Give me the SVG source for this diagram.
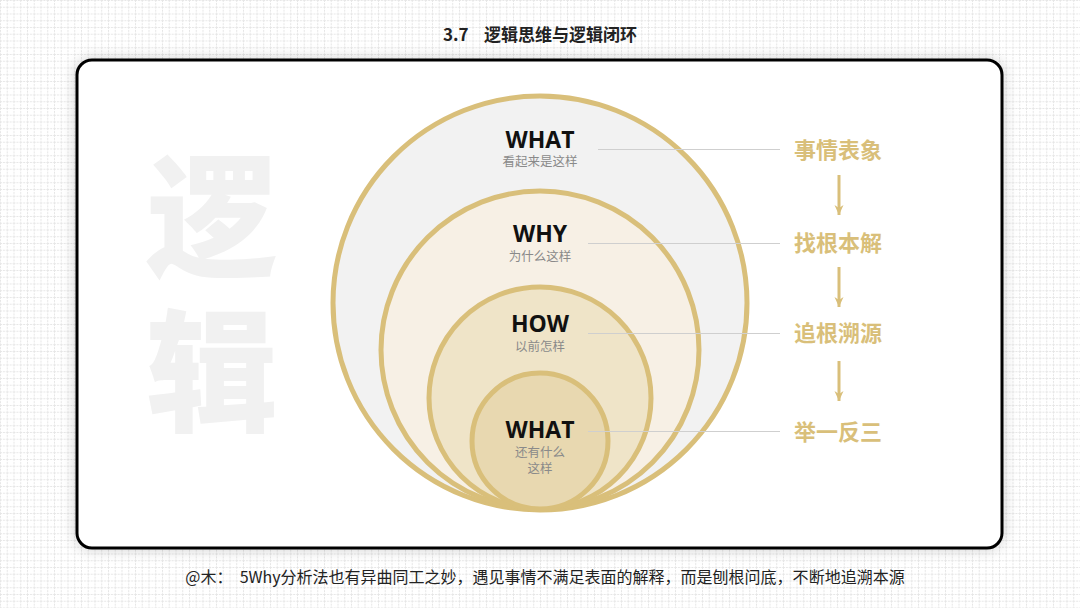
<svg xmlns="http://www.w3.org/2000/svg" width="1080" height="608" viewBox="0 0 1080 608">
  <defs>
    <pattern id="grid" width="6.75" height="6.75" patternUnits="userSpaceOnUse">
      <path d="M0 0.5H6.75M0.5 0V6.75" stroke="#e6e6e6" stroke-width="1" stroke-dasharray="2 1" fill="none"/>
    </pattern>
    <filter id="shadow" x="-10%" y="-10%" width="120%" height="120%">
      <feDropShadow dx="0" dy="0" stdDeviation="7" flood-color="#000" flood-opacity="0.18"/>
    </filter>
    <marker id="arrow" viewBox="0 0 12 12" refX="11" refY="6" markerWidth="12" markerHeight="12" markerUnits="userSpaceOnUse" orient="auto">
      <path d="M1 1.5 L11 6 L1 10.5 L4 6 Z" fill="#d9bf7a"/>
    </marker>
    <style>
      .ring{stroke:#d9bf7a;stroke-width:5}
      .en{font-family:"Open Sans","Liberation Sans",sans-serif;font-weight:700;font-size:23px;fill:#111;text-anchor:middle}
      .sub{font-family:"Noto Sans CJK SC",sans-serif;font-size:12.5px;fill:#8a8a8a;text-anchor:middle}
      .lab{font-family:"Noto Sans CJK SC",sans-serif;font-weight:700;font-size:22px;fill:#d9bf7a;text-anchor:middle}
      .lead{stroke:#cfcfcf;stroke-width:1.2;fill:none}
      .arr{stroke:#d9bf7a;stroke-width:3;fill:none}
    </style>
  </defs>

  <rect x="0" y="0" width="1080" height="608" fill="#fff"/>
  <rect x="0" y="0" width="1080" height="608" fill="url(#grid)"/>

  <text x="540" y="41" font-family="Noto Sans CJK SC,sans-serif" font-weight="700" font-size="17" fill="#222" text-anchor="middle" xml:space="preserve">3.7    逻辑思维与逻辑闭环</text>

  <rect x="77" y="60" width="925" height="488" rx="15" fill="#fff" stroke="#000" stroke-width="3" filter="url(#shadow)"/>

  <g id="watermark" font-family="Noto Sans CJK SC,sans-serif" font-weight="900" font-size="132" fill="#f1f1f1" text-anchor="middle">
    <text x="212" y="266">逻</text>
    <text x="212" y="421">辑</text>
  </g>

  <g id="circle-what-outer">
    <circle class="ring" cx="540" cy="303" r="207" fill="#f2f2f2"/>
  </g>
  <g id="circle-why">
    <circle class="ring" cx="540" cy="350" r="159" fill="#f7f0e5"/>
  </g>
  <g id="circle-how">
    <circle class="ring" cx="540" cy="398" r="111" fill="#efe4c8"/>
  </g>
  <g id="circle-what-inner">
    <circle class="ring" cx="540" cy="441" r="68" fill="#e8d8b0"/>
  </g>

  <g id="connectors">
    <line class="lead" x1="598" y1="149.5" x2="780" y2="149.5"/>
    <line class="lead" x1="588" y1="243.5" x2="780" y2="243.5"/>
    <line class="lead" x1="588" y1="333.5" x2="780" y2="333.5"/>
    <line class="lead" x1="588" y1="431.5" x2="780" y2="431.5"/>
    <line class="arr" x1="839" y1="175" x2="839" y2="215" marker-end="url(#arrow)"/>
    <line class="arr" x1="839" y1="267" x2="839" y2="307" marker-end="url(#arrow)"/>
    <line class="arr" x1="839" y1="361" x2="839" y2="401" marker-end="url(#arrow)"/>
  </g>

  <g id="label-what-outer">
    <text class="en" x="540" y="148">WHAT</text>
    <text class="sub" x="540" y="166">看起来是这样</text>
  </g>
  <g id="label-why">
    <text class="en" x="540" y="242">WHY</text>
    <text class="sub" x="540" y="261">为什么这样</text>
  </g>
  <g id="label-how">
    <text class="en" x="540" y="332">HOW</text>
    <text class="sub" x="540" y="351">以前怎样</text>
  </g>
  <g id="label-what-inner">
    <text class="en" x="540" y="438">WHAT</text>
    <text class="sub" x="540" y="457">还有什么</text>
    <text class="sub" x="540" y="473">这样</text>
  </g>

  <g id="step-1"><text class="lab" x="838" y="158">事情表象</text></g>
  <g id="step-2"><text class="lab" x="838" y="251">找根本解</text></g>
  <g id="step-3"><text class="lab" x="838" y="341">追根溯源</text></g>
  <g id="step-4"><text class="lab" x="838" y="440">举一反三</text></g>

  <text x="545" y="583" font-family="Noto Sans CJK SC,sans-serif" font-size="16" fill="#222" text-anchor="middle" xml:space="preserve">@木：  5Why分析法也有异曲同工之妙，遇见事情不满足表面的解释，而是刨根问底，不断地追溯本源</text>
</svg>
